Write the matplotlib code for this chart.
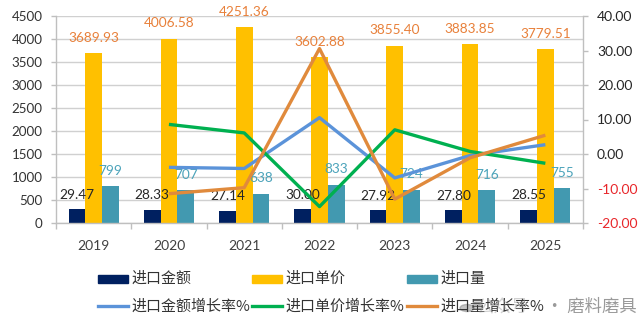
import matplotlib
matplotlib.use('Agg')
import matplotlib.pyplot as plt
import numpy as np
from matplotlib.patches import Rectangle, Circle
from matplotlib.lines import Line2D

plt.rcParams['font.family'] = ['Lato', 'Noto Sans CJK SC', 'DejaVu Sans']

years = ['2019', '2020', '2021', '2022', '2023', '2024', '2025']
amount = [29.47, 28.33, 27.14, 30.00, 27.92, 27.80, 28.55]
unit_price = [3689.93, 4006.58, 4251.36, 3602.88, 3855.40, 3883.85, 3779.51]
volume = [799, 707, 638, 833, 724, 716, 755]
amount_growth = [np.nan, -3.87, -4.20, 10.54, -6.93, -0.43, 2.70]
price_growth = [np.nan, 8.58, 6.11, -15.25, 7.01, 0.74, -2.69]
volume_growth = [np.nan, -11.51, -9.76, 30.56, -13.09, -1.10, 5.45]

AMOUNT_SCALE = 10  # amount bars drawn at x10 on the left axis

C_NAVY = '#002060'
C_YELLOW = '#FFC000'
C_TEAL = '#4299B0'
C_BLUE = '#5B93D9'
C_GREEN = '#00B050'
C_ORANGE = '#E08A3C'
C_GRID = '#D0D0D0'
C_SPINE = '#BFBFBF'

W, H = 643, 324
fig = plt.figure(figsize=(W / 100, H / 100), dpi=100)
L, R, T, B = 56, 583, 16, 223
ax = fig.add_axes([L / W, 1 - B / H, (R - L) / W, (B - T) / H])
ax2 = ax.twinx()

x = np.arange(len(years))
bw = 0.222
off = 0.222

b1 = ax.bar(x - off, np.array(amount) * AMOUNT_SCALE, bw, color=C_NAVY, zorder=2)
b2 = ax.bar(x, unit_price, bw, color=C_YELLOW, zorder=2)
b3 = ax.bar(x + off, volume, bw, color=C_TEAL, zorder=2)

lab_fs = 9.8
for xi, v in zip(x, amount):
    ax.annotate(f'{v:.2f}', (xi - off, v * AMOUNT_SCALE), xytext=(0, 10.5),
                textcoords='offset points', ha='center', va='center',
                fontsize=lab_fs, color='#262626', zorder=3)
for xi, v in zip(x, unit_price):
    ax.annotate(f'{v:.2f}', (xi, v), xytext=(0, 11),
                textcoords='offset points', ha='center', va='center',
                fontsize=lab_fs, color='#E8803A', zorder=3)
for xi, v in zip(x, volume):
    ax.annotate(f'{v}', (xi + off, v), xytext=(0, 11),
                textcoords='offset points', ha='center', va='center',
                fontsize=lab_fs, color='#4BA3BA', zorder=3)

ax.set_xlim(-0.5, len(years) - 0.5)
ax.set_ylim(0, 4500)
ax.set_yticks(np.arange(0, 4501, 500))
ax.yaxis.grid(True, color=C_GRID, linewidth=1.0)
ax.set_axisbelow(True)
ax.tick_params(axis='y', length=3.6, width=1, color=C_SPINE, pad=6,
               labelsize=9.6, labelcolor='#333333')
ax.set_xticks(x)
ax.set_xticklabels(years)
ax.set_xticks(np.arange(-0.5, len(years), 1), minor=True)
ax.tick_params(axis='x', which='major', length=0, pad=12, labelsize=10,
               labelcolor='#404040')
ax.tick_params(axis='x', which='minor', length=4.3, width=1, color=C_SPINE)
for s in ['top', 'right']:
    ax.spines[s].set_visible(False)
for s in ['left', 'bottom']:
    ax.spines[s].set_color(C_SPINE)
    ax.spines[s].set_linewidth(1)

lw = 2.4
ax2.plot(x, amount_growth, color=C_BLUE, lw=lw, solid_capstyle='butt')
ax2.plot(x, price_growth, color=C_GREEN, lw=lw, solid_capstyle='butt')
ax2.plot(x, volume_growth, color=C_ORANGE, lw=lw, solid_capstyle='butt')
ax2.set_ylim(-20, 40)
ax2.set_yticks(np.arange(-20, 41, 10))
ax2.set_yticklabels([f'{v:.2f}' for v in np.arange(-20, 41, 10)])
ax2.tick_params(axis='y', length=3.6, width=1, color=C_SPINE, pad=6.5,
                labelsize=10)
for lbl, v in zip(ax2.get_yticklabels(), np.arange(-20, 41, 10)):
    lbl.set_color('#E8262A' if v < 0 else '#262626')
for s in ['top', 'left', 'bottom']:
    ax2.spines[s].set_visible(False)
ax2.spines['right'].set_color(C_SPINE)
ax2.spines['right'].set_linewidth(1)

# legend (manual)
def fx(px):
    return px / W

def fy(py):
    return 1 - py / H

leg_fs = 10.8
cols = [98.3, 251.7, 406.7]
row1, row2 = 278.5, 305.5
bar_items = [('进口金额', C_NAVY), ('进口单价', C_YELLOW), ('进口量', C_TEAL)]
line_items = [('进口金额增长率%', C_BLUE), ('进口单价增长率%', C_GREEN), ('进口量增长率%', C_ORANGE)]
for cx, (name, col) in zip(cols, bar_items):
    fig.patches.append(Rectangle((fx(cx), fy(row1 + 4)), 30 / W, 8 / H,
                                 transform=fig.transFigure, color=col))
    fig.text(fx(cx + 33.5), fy(row1), name, fontsize=leg_fs, va='center',
             ha='left', color='#333333', family=['Noto Sans CJK SC', 'DejaVu Sans'])
for cx, (name, col) in zip(cols, line_items):
    fig.lines.append(Line2D([fx(cx), fx(cx + 30)], [fy(row2), fy(row2)],
                            transform=fig.transFigure, color=col, lw=2.4))
    fig.text(fx(cx + 33.5), fy(row2 + 0.5), name, fontsize=leg_fs, va='center',
             ha='left', color='#333333', family=['Noto Sans CJK SC', 'DejaVu Sans'])

# watermark
fig.patches.append(Circle((fx(467), fy(308)), 7 / W, transform=fig.transFigure,
                          color='#888888', alpha=0.5))
fig.text(fx(476), fy(307), '公众号', fontsize=12.5, va='center', ha='left',
         color='#999999', alpha=0.45, family=['Noto Sans CJK SC', 'DejaVu Sans'])
fig.text(fx(546), fy(307), '· 磨料磨具', fontsize=12.5, va='center', ha='left',
         color='#9A9A9A', family=['Noto Sans CJK SC', 'DejaVu Sans'])

fig.savefig('out.png', dpi=100)
